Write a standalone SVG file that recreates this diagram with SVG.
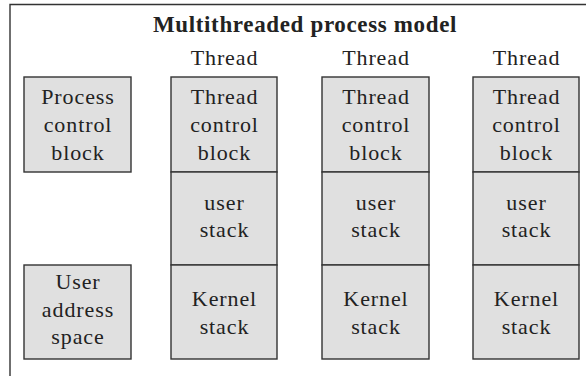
<svg xmlns="http://www.w3.org/2000/svg" width="586" height="376" viewBox="0 0 586 376">
<style>
.box{fill:#e0e0e0;stroke:#333;stroke-width:1.4}
.frame{fill:none;stroke:#333;stroke-width:1.4}
text{font-family:'Liberation Serif','DejaVu Serif','Times New Roman',serif;font-size:22px;fill:#222;text-anchor:middle;letter-spacing:0.9px}
.title{font-weight:bold;font-size:23px;letter-spacing:0.65px}
</style>
<rect width="586" height="376" fill="#fff"/>
<path class="frame" d="M10 376 V4.5 H586"/>
<text class="title" x="305" y="32">Multithreaded process model</text>
<g id="pcb">
<rect class="box" x="24" y="77" width="107" height="95"/>
<text x="78" y="104">Process</text><text x="78" y="132">control</text><text x="78" y="160">block</text>
</g>
<g id="uas">
<rect class="box" x="24" y="265" width="107" height="94"/>
<text x="78" y="289">User</text><text x="78" y="317">address</text><text x="78" y="344">space</text>
</g>
<g id="thread1">
<text x="224.5" y="65">Thread</text>
<rect class="box" x="171" y="77" width="106" height="95"/>
<text x="224.5" y="104">Thread</text><text x="224.5" y="132">control</text><text x="224.5" y="160">block</text>
<rect class="box" x="171" y="172" width="106" height="93"/>
<text x="224.5" y="210">user</text><text x="224.5" y="237">stack</text>
<rect class="box" x="171" y="265" width="106" height="94"/>
<text x="224.5" y="306">Kernel</text><text x="224.5" y="334">stack</text>
</g>
<g id="thread2">
<text x="376" y="65">Thread</text>
<rect class="box" x="322" y="77" width="107" height="95"/>
<text x="376" y="104">Thread</text><text x="376" y="132">control</text><text x="376" y="160">block</text>
<rect class="box" x="322" y="172" width="107" height="93"/>
<text x="376" y="210">user</text><text x="376" y="237">stack</text>
<rect class="box" x="322" y="265" width="107" height="94"/>
<text x="376" y="306">Kernel</text><text x="376" y="334">stack</text>
</g>
<g id="thread3">
<text x="526.5" y="65">Thread</text>
<rect class="box" x="473" y="77" width="106" height="95"/>
<text x="526.5" y="104">Thread</text><text x="526.5" y="132">control</text><text x="526.5" y="160">block</text>
<rect class="box" x="473" y="172" width="106" height="93"/>
<text x="526.5" y="210">user</text><text x="526.5" y="237">stack</text>
<rect class="box" x="473" y="265" width="106" height="94"/>
<text x="526.5" y="306">Kernel</text><text x="526.5" y="334">stack</text>
</g>
<g id="connectors"/>
</svg>
